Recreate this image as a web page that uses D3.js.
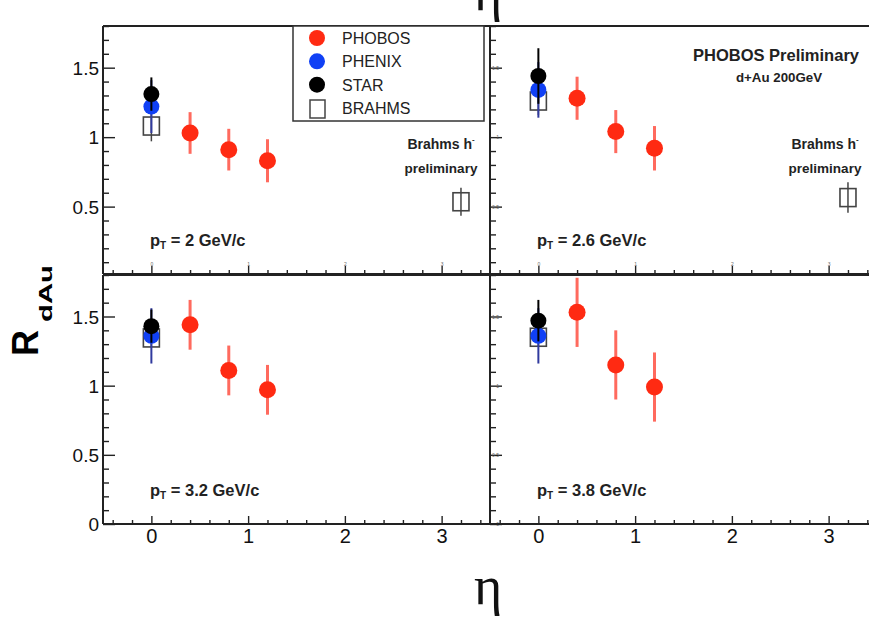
<!DOCTYPE html>
<html>
<head>
<meta charset="utf-8">
<script src="https://cdn.jsdelivr.net/npm/d3@7"></script>
<style>
  body { margin: 0; background: #fff; }
  text { font-family: "Liberation Sans", Arial, Helvetica, sans-serif; }
</style>
</head>
<body>
<div id="chart"></div>
<script>
var svgWidth = 869;
var svgHeight = 623;

// ---- data ----
var ptLabels = ["2", "2.6", "3.2", "3.8"];

var phobosEta = [0.4, 0.8, 1.2];
var phobosR = [
  [1.03, 0.91, 0.83],
  [1.28, 1.04, 0.92],
  [1.44, 1.11, 0.97],
  [1.53, 1.15, 0.99]
];
var phobosErr = [
  [0.15, 0.15, 0.155],
  [0.155, 0.155, 0.16],
  [0.18, 0.18, 0.18],
  [0.25, 0.25, 0.25]
];

var midEta = 0;
var phenixR = [1.22, 1.34, 1.36, 1.36];
var phenixErr = [0.19, 0.2, 0.2, 0.2];
var starR = [1.31, 1.44, 1.43, 1.47];
var starErr = [0.12, 0.2, 0.12, 0.15];
var brahmsR = [1.08, 1.26, 1.345, 1.35];
var brahmsErr = [0.11, 0.1, 0.07, 0.07];

var brahmsFwdEta = 3.2;
var brahmsFwdR = [0.535, 0.565, null, null];
var brahmsFwdErr = [0.1, 0.11, null, null];

var yMajor = [0, 0.5, 1, 1.5];
var xMajor = [0, 1, 2, 3];

var legendNames = ["PHOBOS", "PHENIX", "STAR", "BRAHMS"];

// ---- layout ----
var colRange = [[103, 490], [490, 877]];
var rowLayout = [
  { range: [274, 26], domain: [0.015, 1.8] },
  { range: [524, 275], domain: [0, 1.8] }
];

var red = "#ff2a12", redErr = "#ff6a5e";
var blue = "#1040f5", blueErr = "#303a9e";

var svg = d3.select("#chart")
  .append("svg")
  .attr("width", svgWidth)
  .attr("height", svgHeight);

var defs = svg.append("defs");

ptLabels.forEach(function(pt, i) {
  var col = i % 2, row = Math.floor(i / 2);
  var x = d3.scaleLinear().domain([-0.5, 3.5]).range(colRange[col]);
  var y = d3.scaleLinear().domain(rowLayout[row].domain).range(rowLayout[row].range);
  var x0 = colRange[col][0], x1 = colRange[col][1];
  var yTop = rowLayout[row].range[1], yBot = rowLayout[row].range[0];

  var g = svg.append("g");

  // y axis (ticks pointing inward)
  var yMinor = d3.range(0, 1.81, 0.1).filter(function(v) {
    return v >= y.domain()[0] && Math.abs(v * 2 - Math.round(v * 2)) > 1e-6;
  });
  var yMaj = yMajor.filter(function(v) { return v >= y.domain()[0]; });

  g.append("g")
    .attr("transform", "translate(" + x0 + ",0)")
    .call(d3.axisLeft(y).tickValues(yMinor).tickSize(-6).tickFormat(""));
  var yMajorAxis = g.append("g")
    .attr("transform", "translate(" + x0 + ",0)")
    .call(d3.axisLeft(y).tickValues(yMaj).tickSize(-12).tickPadding(col === 0 ? 4 : -9)
      .tickFormat(function(d) { return d3.format("")(d); }));
  if (col === 0) {
    yMajorAxis.selectAll("text").attr("font-size", 19).attr("fill", "#111").attr("dy", "0.36em");
  } else {
    yMajorAxis.selectAll("text").attr("font-size", 5).attr("fill", "#666");
  }

  // x axis
  var xMinor = d3.range(-0.4, 3.41, 0.2).filter(function(v) {
    return Math.abs(v - Math.round(v)) > 1e-6;
  });
  g.append("g")
    .attr("transform", "translate(0," + yBot + ")")
    .call(d3.axisBottom(x).tickValues(xMinor).tickSize(-4).tickFormat(""));
  var xMajorAxis = g.append("g")
    .attr("transform", "translate(0," + yBot + ")")
    .call(d3.axisBottom(x).tickValues(xMajor).tickSize(-8).tickPadding(row === 1 ? 5 : -12)
      .tickFormat(d3.format("d")));
  if (row === 1) {
    xMajorAxis.selectAll("text").attr("font-size", 20).attr("fill", "#111");
  } else {
    xMajorAxis.selectAll("text").attr("font-size", 5).attr("fill", "#666");
  }

  g.selectAll(".domain").remove();
  g.selectAll(".tick line").attr("stroke", "#222").attr("stroke-width", 1.4);

  // frame
  g.append("line").attr("x1", x0).attr("x2", x1).attr("y1", yBot).attr("y2", yBot)
    .attr("stroke", "#222").attr("stroke-width", 2.2);
  g.append("line").attr("x1", x0).attr("x2", x1).attr("y1", yTop).attr("y2", yTop)
    .attr("stroke", "#222").attr("stroke-width", 2);
  g.append("line").attr("x1", x0).attr("x2", x0).attr("y1", yTop).attr("y2", yBot)
    .attr("stroke", "#222").attr("stroke-width", 2);

  // clip for data
  defs.append("clipPath").attr("id", "clip" + i)
    .append("rect").attr("x", x0).attr("y", yTop).attr("width", x1 - x0).attr("height", yBot - yTop);
  var plot = svg.append("g").attr("clip-path", "url(#clip" + i + ")");

  // BRAHMS mid rapidity + forward
  var brahms = [{ eta: midEta, r: brahmsR[i], e: brahmsErr[i] }];
  if (brahmsFwdR[i] !== null) brahms.push({ eta: brahmsFwdEta, r: brahmsFwdR[i], e: brahmsFwdErr[i] });
  plot.selectAll(null).data(brahms).enter().append("line")
    .attr("x1", function(d) { return x(d.eta); })
    .attr("x2", function(d) { return x(d.eta); })
    .attr("y1", function(d) { return y(d.r + d.e); })
    .attr("y2", function(d) { return y(d.r - d.e); })
    .attr("stroke", "#444").attr("stroke-width", 1.5);
  plot.selectAll(null).data(brahms).enter().append("rect")
    .attr("x", function(d) { return x(d.eta) - 8; })
    .attr("y", function(d) { return y(d.r) - 9; })
    .attr("width", 16).attr("height", 18)
    .attr("fill", "none").attr("stroke", "#444").attr("stroke-width", 1.6);

  // PHENIX
  plot.append("line")
    .attr("x1", x(midEta)).attr("x2", x(midEta))
    .attr("y1", y(phenixR[i] + phenixErr[i])).attr("y2", y(phenixR[i] - phenixErr[i]))
    .attr("stroke", blueErr).attr("stroke-width", 2);
  plot.append("circle")
    .attr("cx", x(midEta)).attr("cy", y(phenixR[i])).attr("r", 8).attr("fill", blue);

  // STAR
  plot.append("line")
    .attr("x1", x(midEta)).attr("x2", x(midEta))
    .attr("y1", y(starR[i] + starErr[i])).attr("y2", y(starR[i] - starErr[i]))
    .attr("stroke", "#000").attr("stroke-width", 2);
  plot.append("circle")
    .attr("cx", x(midEta)).attr("cy", y(starR[i])).attr("r", 8).attr("fill", "#000");

  // PHOBOS
  var phobos = phobosEta.map(function(eta, j) {
    return { eta: eta, r: phobosR[i][j], e: phobosErr[i][j] };
  });
  plot.selectAll(null).data(phobos).enter().append("line")
    .attr("x1", function(d) { return x(d.eta); })
    .attr("x2", function(d) { return x(d.eta); })
    .attr("y1", function(d) { return y(d.r + d.e); })
    .attr("y2", function(d) { return y(d.r - d.e); })
    .attr("stroke", redErr).attr("stroke-width", 3);
  plot.selectAll(null).data(phobos).enter().append("circle")
    .attr("cx", function(d) { return x(d.eta); })
    .attr("cy", function(d) { return y(d.r); })
    .attr("r", 8.5).attr("fill", red);

  // pT label
  var lbl = svg.append("text")
    .attr("x", x0 + 47).attr("y", yBot - 28)
    .attr("font-size", 16.5).attr("font-weight", "bold").attr("fill", "#222");
  lbl.append("tspan").text("p");
  lbl.append("tspan").attr("font-size", 10).attr("dy", 3).text("T");
  lbl.append("tspan").attr("dy", -3).text(" = " + pt + " GeV/c");

  // Brahms forward note
  if (brahmsFwdR[i] !== null) {
    var nx = col === 0 ? 441 : 825;
    var note = svg.append("text").attr("x", nx).attr("y", 149)
      .attr("text-anchor", "middle").attr("font-size", 14).attr("font-weight", "bold").attr("fill", "#222");
    note.append("tspan").text("Brahms h");
    note.append("tspan").attr("font-size", 8).attr("dy", -7).text("-");
    svg.append("text").attr("x", nx).attr("y", 173)
      .attr("text-anchor", "middle").attr("font-size", 13.5).attr("font-weight", "bold").attr("fill", "#222")
      .text("preliminary");
  }
});

// ---- legend ----
var legend = svg.append("g");
legend.append("rect")
  .attr("x", 293).attr("y", 26).attr("width", 191).attr("height", 95)
  .attr("fill", "#fff").attr("stroke", "#333").attr("stroke-width", 1.5);
var legY = d3.scalePoint().domain(legendNames).range([38, 108]);
legendNames.forEach(function(name, k) {
  var cy = legY(name);
  if (name === "BRAHMS") {
    legend.append("rect").attr("x", 310).attr("y", cy - 8).attr("width", 15).attr("height", 18)
      .attr("fill", "none").attr("stroke", "#444").attr("stroke-width", 1.5);
  } else {
    legend.append("circle").attr("cx", 317).attr("cy", cy).attr("r", 8)
      .attr("fill", [red, blue, "#000"][k]);
  }
  legend.append("text").attr("x", 342).attr("y", cy + 6)
    .attr("font-size", 16).attr("fill", "#222").text(name);
});

// ---- titles ----
svg.append("text").attr("x", 776).attr("y", 61).attr("text-anchor", "middle")
  .attr("font-size", 16.5).attr("font-weight", "bold").attr("fill", "#222")
  .text("PHOBOS Preliminary");
svg.append("text").attr("x", 779).attr("y", 82).attr("text-anchor", "middle")
  .attr("font-size", 13.3).attr("font-weight", "bold").attr("fill", "#222")
  .text("d+Au 200GeV");

// y axis title R_dAu
svg.append("text")
  .attr("transform", "translate(38,356) rotate(-90)")
  .attr("font-size", 36).attr("font-weight", "bold").attr("fill", "#000")
  .text("R");
svg.append("text")
  .attr("transform", "translate(52,322) rotate(-90)")
  .attr("font-size", 19).attr("font-weight", "bold").attr("fill", "#000")
  .attr("textLength", 57).attr("lengthAdjust", "spacingAndGlyphs")
  .text("dAu");

// x axis title eta (bottom, and the copy cut by the top edge as in the original)
svg.append("text").attr("x", 488).attr("y", 604).attr("text-anchor", "middle")
  .style("font-family", "'Liberation Serif', 'DejaVu Serif', serif")
  .attr("font-size", 54).attr("fill", "#111").text("η");
svg.append("text").attr("x", 488).attr("y", 10).attr("text-anchor", "middle")
  .style("font-family", "'Liberation Serif', 'DejaVu Serif', serif")
  .attr("font-size", 54).attr("fill", "#111").text("η");
</script>
</body>
</html>
